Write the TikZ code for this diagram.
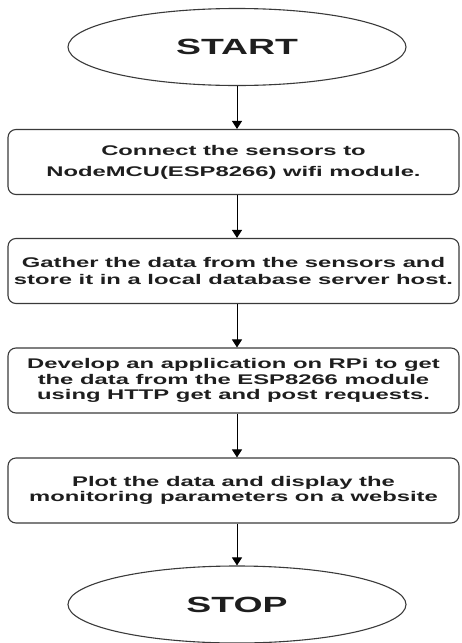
\documentclass[tikz,border=0pt]{standalone}
\usepackage{fontspec}
\newfontfamily\flowfont[FakeStretch=1.7]{Liberation Sans}
\usetikzlibrary{shapes.geometric,arrows.meta}
\definecolor{edge}{HTML}{3A3A3A}
\definecolor{ink}{HTML}{1E1E1E}
\tikzset{
  terminal/.style={ellipse, draw=edge, line width=1.1pt, minimum width=338pt,
    minimum height=77pt, inner sep=0pt, text=ink,
    font=\flowfont\bfseries\fontsize{22}{24}\selectfont},
  stepbox/.style={rectangle, rounded corners=8pt, draw=edge, line width=1.1pt,
    minimum width=451pt, minimum height=65pt, inner sep=0pt, align=center,
    text=ink, font=\flowfont\bfseries\fontsize{14}{16}\selectfont},
  flow/.style={-{Triangle[length=8pt,width=10pt]}, line width=1pt, black}
}
\begin{document}
\begin{tikzpicture}[x=1pt,y=-1pt]
  \useasboundingbox (0,0) rectangle (461,643);
  \node[terminal] (start) at (237,47) {START};
  \node[stepbox, font=\flowfont\bfseries\fontsize{14}{21}\selectfont] (b1) at (233.5,162)
    {Connect the sensors to\\NodeMCU(ESP8266) wifi module.};
  \node[stepbox, font=\flowfont\bfseries\fontsize{14}{17}\selectfont] (b2) at (233.5,271)
    {Gather the data from the sensors and\\store it in a local database server host.};
  \node[stepbox, font=\flowfont\bfseries\fontsize{14}{15.5}\selectfont] (b3) at (233.5,380.5)
    {Develop an application on RPi to get\\the data from the ESP8266 module\\using HTTP get and post requests.};
  \node[stepbox, font=\flowfont\bfseries\fontsize{14}{15.5}\selectfont] (b4) at (233.5,490.5)
    {Plot the data and display the\\monitoring parameters on a website};
  \node[terminal] (stop) at (237,604.5) {STOP};

  \draw[flow] (start.south) -- (start.south |- b1.north);
  \draw[flow] (b1.south -| start.south) -- (start.south |- b2.north);
  \draw[flow] (b2.south -| start.south) -- (start.south |- b3.north);
  \draw[flow] (b3.south -| start.south) -- (start.south |- b4.north);
  \draw[flow] (b4.south -| start.south) -- (stop.north);
\end{tikzpicture}
\end{document}
